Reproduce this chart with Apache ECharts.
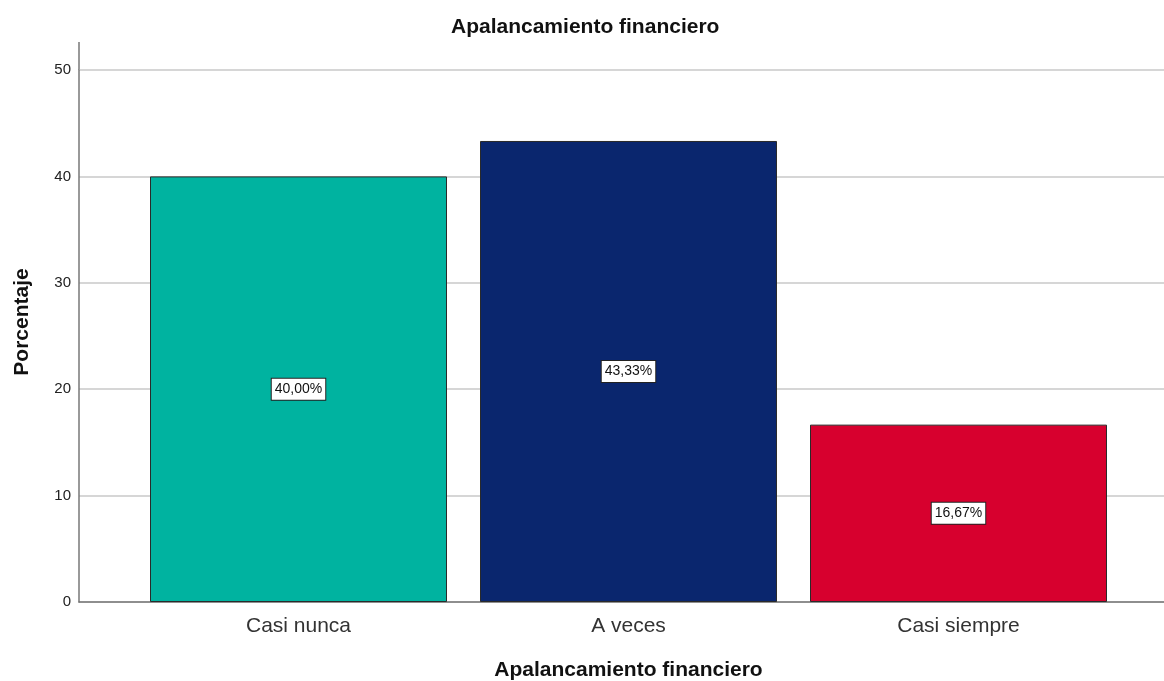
<!DOCTYPE html>
<html>
<head>
<meta charset="utf-8">
<script src="https://cdn.jsdelivr.net/npm/echarts@6/dist/echarts.min.js"></script>
<style>
  html, body { margin: 0; padding: 0; background: #fff; }
  #chart { width: 1164px; height: 681px; }
</style>
</head>
<body>
<div id="chart"></div>
<script>
const categories = ['Casi nunca', 'A veces', 'Casi siempre'];
const porcentajes = [40.00, 43.33, 16.67];
const barColors = ['#00B3A0', '#0A266E', '#D7002E'];
const yTicks = [0, 10, 20, 30, 40, 50];

const font = 'Liberation Sans, Arial, sans-serif';
const chart = echarts.init(document.getElementById('chart'));

const option = {
  animation: false,
  title: {
    text: 'Apalancamiento financiero',
    left: 446, top: 12,
    textStyle: { fontFamily: font, fontSize: 21, fontWeight: 'bold', color: '#111' }
  },
  grid: [
    { left: 79, right: 0, top: 70, bottom: 79, outerBoundsMode: 'none', containLabel: false },
    { left: 133.5, right: 40.5, top: 70, bottom: 79, outerBoundsMode: 'none', containLabel: false }
  ],
  xAxis: [
    {
      gridIndex: 0, type: 'value', min: 0, max: 1,
      axisLine: { show: true, lineStyle: { color: '#777', width: 1.5 } },
      axisTick: { show: false }, axisLabel: { show: false }, splitLine: { show: false }
    },
    {
      gridIndex: 1, type: 'category', data: categories,
      axisLine: { show: false }, axisTick: { show: false },
      axisLabel: { margin: 14, fontFamily: font, fontSize: 21, color: '#333' },
      name: 'Apalancamiento financiero', nameLocation: 'middle', nameGap: 58,
      nameTextStyle: { fontFamily: font, fontSize: 21, fontWeight: 'bold', color: '#111' }
    }
  ],
  yAxis: [
    {
      gridIndex: 0, type: 'value', min: 0, max: 50, interval: 10,
      axisLine: { show: true, lineStyle: { color: '#777', width: 1.5 } },
      axisTick: { show: false },
      axisLabel: {
        margin: 8, fontFamily: font, fontSize: 15, color: '#222',
        customValues: yTicks
      },
      splitLine: { show: true, lineStyle: { color: '#c8c8c8', width: 1.5 } },
      name: 'Porcentaje', nameLocation: 'middle', nameGap: 46,
      nameTextStyle: { fontFamily: font, fontSize: 21, fontWeight: 'bold', color: '#111', padding: [0, 0, 0, 28] }
    },
    {
      gridIndex: 1, type: 'value', min: 0, max: 50, show: false
    }
  ],
  graphic: [
    {
      // prolongación del eje Y por encima de 50
      type: 'line', shape: { x1: 79, y1: 42, x2: 79, y2: 70 },
      style: { stroke: '#777', lineWidth: 1.5 }
    }
  ],
  series: [
    {
      type: 'bar', xAxisIndex: 1, yAxisIndex: 1,
      barWidth: 297,
      data: porcentajes.map((v, i) => ({
        value: v,
        itemStyle: { color: barColors[i], borderColor: '#2a2a2a', borderWidth: 1 }
      })),
      label: {
        show: true, position: 'inside',
        formatter: p => p.value.toFixed(2).replace('.', ',') + '%',
        fontFamily: font, fontSize: 14, color: '#111',
        backgroundColor: '#fff', borderColor: '#222', borderWidth: 1,
        padding: [4, 3, 3, 3]
      }
    }
  ]
};

chart.setOption(option);
window.addEventListener('resize', () => chart.resize());
</script>
</body>
</html>
